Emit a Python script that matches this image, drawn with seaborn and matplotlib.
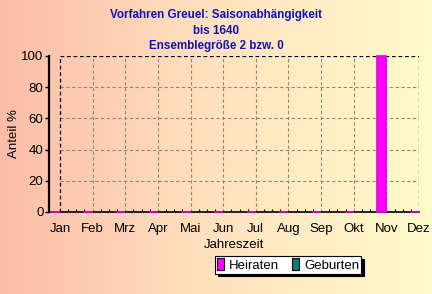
import numpy as np
import pandas as pd
import matplotlib
matplotlib.use("Agg")
import matplotlib.pyplot as plt
from matplotlib.patches import Patch
from matplotlib.colors import LinearSegmentedColormap
import seaborn as sns

months = ['Jan', 'Feb', 'Mrz', 'Apr', 'Mai', 'Jun', 'Jul', 'Aug', 'Sep', 'Okt', 'Nov', 'Dez']
heiraten = [0, 0, 0, 0, 0, 0, 0, 0, 0, 0, 100, 0]
geburten = [0, 0, 0, 0, 0, 0, 0, 0, 0, 0, 0, 0]
series = ['Heiraten', 'Geburten']
yticks = [0, 20, 40, 60, 80, 100]
title_lines = ['Vorfahren Greuel: Saisonabhängigkeit', 'bis 1640', 'Ensemblegröße 2 bzw. 0']

plt.rcParams['font.family'] = ['Liberation Sans', 'DejaVu Sans']

df = pd.DataFrame({
    'Monat': months * 2,
    'Anteil': heiraten + geburten,
    'Serie': [series[0]] * 12 + [series[1]] * 12,
})

W, H = 432, 294
fig = plt.figure(figsize=(W / 100, H / 100), dpi=100)

# background gradient
bg = fig.add_axes([0, 0, 1, 1], zorder=-10)
cmap = LinearSegmentedColormap.from_list('bg', ['#FBBDA8', '#FFE2C0', '#FFFBCB'])
grad = np.linspace(0, 1, 256).reshape(1, -1)
bg.imshow(grad, aspect='auto', cmap=cmap, extent=[0, 1, 0, 1])
bg.set_axis_off()

L, R, T, B = 49, 419, 56, 212
ax = fig.add_axes([L / W, 1 - B / H, (R - L) / W, (B - T) / H])
ax.set_facecolor('none')

colors = {'Heiraten': '#FF00FF', 'Geburten': '#008080'}
sns.barplot(data=df, x='Monat', y='Anteil', hue='Serie', order=months, hue_order=series,
            palette=colors, width=0.56, saturation=1, legend=False, ax=ax)

for i, p in enumerate(ax.patches):
    p.set_zorder(4)
    p.set_clip_on(False)
    if i < 12:
        p.set_edgecolor('#E000E0')
        p.set_linewidth(1.2)
    else:
        p.set_linewidth(0)

x_left = -(60 - L) / ((R - 60) / 11)
ax.set_xlim(x_left, 11)
ax.set_ylim(0, 100)

# grid
dash = (0, (3, 2.2))
for i in range(1, 11):
    ax.vlines(i, 0, 100, colors='#958578', linestyles=dash, linewidth=0.8, zorder=1)
for y in yticks[1:-1]:
    ax.hlines(y, 0, 11, colors='#958578', linestyles=dash, linewidth=0.8, zorder=1)
ax.vlines([0, 11], 0, 100, colors='black', linestyles=dash, linewidth=0.9, zorder=2)
ax.hlines(100, 0, 11, colors='black', linestyles=dash, linewidth=0.9, zorder=2)

for s in ['top', 'right']:
    ax.spines[s].set_visible(False)
ax.spines['left'].set_linewidth(1.6)
ax.spines['bottom'].set_linewidth(1.2)
for s in ['left', 'bottom']:
    ax.spines[s].set_zorder(3)

ax.set_yticks(yticks)
ax.set_yticklabels([str(v) for v in yticks], fontsize=9.5)
ax.tick_params(axis='y', length=3, width=1, pad=1)
ax.set_xticks(range(12))
ax.set_xticklabels(months, fontsize=9.5)
ax.tick_params(axis='x', length=0, pad=8)
ax.set_xticks(np.arange(0, 11.01, 0.25), minor=True)
ax.tick_params(axis='x', which='minor', direction='in', length=2, width=0.8)

ax.set_xlabel('Jahreszeit', fontsize=9.5, labelpad=3)
ax.set_ylabel('Anteil %', fontsize=9.5, labelpad=1)

fig.text(216 / W, 1 - 30.5 / H, '\n'.join(title_lines), ha='center', va='center',
         fontsize=8.4, fontweight='bold', color='#1414B4', linespacing=1.38)

handles = [Patch(facecolor=colors[s], edgecolor='black', linewidth=0.8, label=s) for s in series]
leg = fig.legend(handles=handles, loc='center', bbox_to_anchor=(288 / W, 1 - 265 / H), ncol=2,
                 fontsize=9.5, frameon=True, fancybox=False, shadow={'color': 'black', 'alpha': 1},
                 handlelength=0.55, handleheight=1.0, handletextpad=0.35, columnspacing=1.0,
                 borderpad=0.15, borderaxespad=0)
leg.get_frame().set_edgecolor('black')
leg.get_frame().set_linewidth(0.8)
leg.get_frame().set_facecolor('white')

fig.savefig('out.png', dpi=100)
